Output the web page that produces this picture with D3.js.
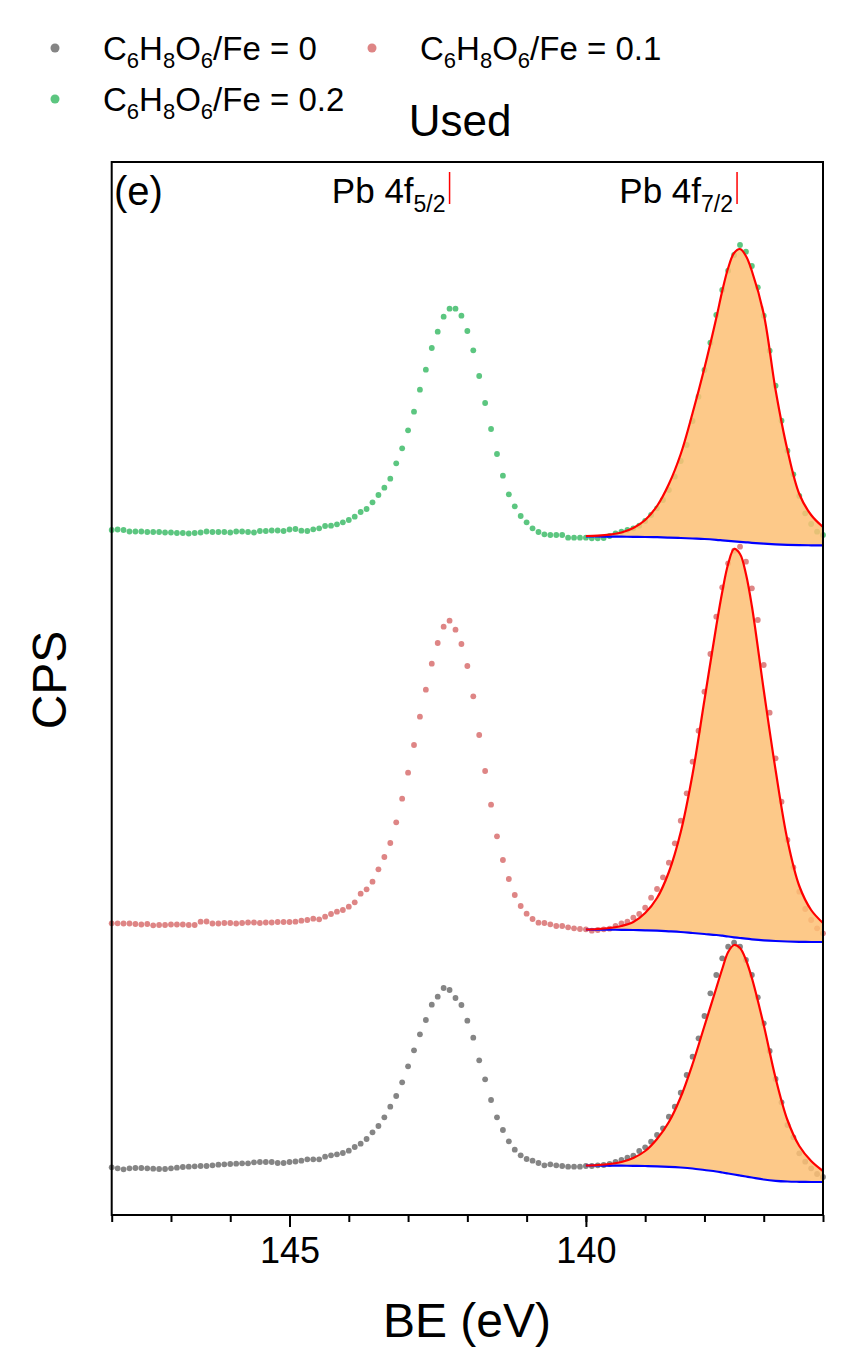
<!DOCTYPE html>
<html lang="en">
<head>
<meta charset="UTF-8">
<title>Pb 4f - Used</title>
<script src="https://d3js.org/d3.v7.min.js"></script>
<style>
body{margin:0;background:#fff;}
text{font-family:Arial,"Liberation Sans",sans-serif;fill:#000;}
</style>
</head>
<body>
<div id="chart"></div>
<script>
// binding energies of the measured points (eV), step 0.1, 148.0 -> 136.0
const be = d3.range(0, 121).map(i => +(148 - i * 0.1).toFixed(1));

const ratio0 = [
  1167.3,1168.3,1169.3,1168.3,1168,1168,1168.3,1168.7,1169,1169,1168.3,1167.7,1167,1166.7,1166.3,1166,
  1166,1165.3,1164.7,1164.3,1164,1163.7,1163.3,1163.3,1162.3,1162,1162,1162,1163,1163,1162,1161.5,
  1160.7,1159.3,1159.3,1159.3,1156.7,1155.3,1154.3,1153,1150.7,1147,1143.7,1139,1132.3,1126,1117.3,1106.7,
  1096,1082.3,1066.3,1050.3,1034.3,1020,1004.7,996.7,988,990,998,1005,1020.7,1037.7,1060.3,1079.3,
  1100,1117.3,1130,1141.3,1149.7,1155.3,1159,1160.7,1163,1165.3,1164.3,1165.3,1166,1166.7,1166.7,1166.7,
  1166,1166,
  1165.3,1165,1164,1162,1160,1157.7,1155.7,1151,1147.3,1141.7,1135,1128.3,1116.7,1106.7,1092.7,
  1075,1056.7,1038.3,1016,993.3,975,958.3,946.7,942.7,946.7,960,975,997.3,1023.3,1051,1079,
  1102.3,1125,1137.3,1153.3,1161.7,1168.3,1174,1177
];
const ratio01 = [
  923.3,923.3,923.5,923.5,924,924.5,924,925.3,925,925,924.5,924.5,924.5,925,925,921.7,
  921.5,923.5,923.5,923,923,923.5,923,922.5,922.5,923,922.5,922.5,922,922,922,921.7,
  920.7,920,918.7,919.3,916.7,914,911.7,910,906.7,902.3,893.7,889.3,881.7,869.3,857,843,
  822.3,798.7,772.7,745,716.7,689.7,663.7,643,626.7,620.7,629.7,644,666,696.3,735,771,
  804.7,836.3,860,879,895,906,913.7,919,922.7,923,924.3,926,926,927.3,928.3,929,
  929.3,930.7,
  930,929.3,928.7,926,923.3,921.7,917.7,914,907.7,897.7,889,877.3,862.7,843.3,
  820.7,793.3,761.7,730.7,691.7,654,616.7,587.3,563.3,550.7,546.7,561.7,588.3,620,665,712.7,
  758.3,801.7,840,867.3,891.7,909,920,928.3,933.3
];
const ratio02 = [
  530,529.5,530,531.5,531.5,531.5,532,532,532,532.5,532.5,533,533,533.5,533,532.5,
  531.5,532,532,532,532.5,531.5,531.5,532,532.5,531,531,530.5,530.5,531,529.5,529,
  530.7,531,529.3,528.3,526,525.7,524.3,522.3,520,516.7,512,509,502.3,495,487.7,478.7,
  463.3,448.3,430.3,411.7,389.7,369.7,348,331.7,316.7,308.7,308.7,315.7,331,350.3,376,403,
  429,454,475.7,494.3,506.3,516,522.3,528.3,532,534.3,535,535,535,537.7,537.7,537.7,
  537.7,538.3,
  538.3,538,536,533.5,531.7,530,528.3,525.7,521,515,508.3,500,490,476.7,
  461,445,421,396.7,370,342.7,315,290,270.7,255,245,251.7,266,287.3,315.7,350.7,
  385.7,420.7,450.7,474.3,496,513.3,524,531.7,535
];

// Pb 4f7/2 fit envelope and background (same BE grid)
const fitBE = [140,139.8,139.6,139.4,139.2,139.0,138.8,138.6,138.4,138.2,138.0,137.8,137.7,137.6,137.5,137.4,137.3,137.2,137.0,136.8,136.6,136.4,136.2,136.0];
const fit0  = [1165.5,1165,1164,1162,1158,1151,1139,1122,1097,1064,1026,988,969,952,945,948,960,978,1025,1078,1120,1146,1161,1171];
const bg0   = [1165.5,1165.5,1165.6,1165.7,1165.8,1166,1166.3,1166.8,1167.5,1168.5,1170,1171.5,1172.5,1173.5,1174.5,1175.5,1176.5,1177.5,1179.5,1180.8,1181.5,1181.8,1182,1182];
const fit01 = [929.5,929,928,926,922,913,898,872,832,774,700,626,592,564,549,554,574,606,690,770,840,886,910,923];
const bg01  = [929.5,929.6,929.7,929.8,930,930.3,930.7,931.3,932,933,934,935,935.7,936.5,937.3,938,938.7,939.3,940.3,941,941.5,941.8,942,942];
const fit02 = [536,535.6,534.6,532.5,528,520,506,484,454,413,368,318,291,268,253,249,256,271,314,390,450,494,515,527];
const bg02  = [536.5,536.5,536.6,536.7,536.8,537,537.2,537.6,538,538.5,539,539.8,540.3,540.8,541.3,541.8,542.3,542.8,543.6,544.3,544.8,545.1,545.3,545.4];

const seriesNames = ["0", "0.1", "0.2"];
const seriesColors = ["#858585", "#de8585", "#5cc680"];
const xTicksMajor = [145, 140];
const peakLabels = [{main:"Pb 4f", sub:"5/2", be:142.3}, {main:"Pb 4f", sub:"7/2", be:137.45}];

const W = 855, H = 1371;
const mLeft = 111.7, mRight = 823, mTop = 162, mBottom = 1215;

const svg = d3.select("#chart").append("svg").attr("width", W).attr("height", H);

const x = d3.scaleLinear().domain([148, 136]).range([mLeft, mRight]);
const y = d3.scaleLinear().domain([1215, 162]).range([mBottom, mTop]);

const plot = svg.append("g");
const series = [ratio0, ratio01, ratio02];
const fits = [[fit0, bg0], [fit01, bg01], [fit02, bg02]];

// dots first
series.forEach((s, k) => {
  plot.append("g").selectAll("circle").data(s).enter().append("circle")
    .attr("cx", (d, i) => x(be[i]))
    .attr("cy", d => y(d))
    .attr("r", 2.9)
    .attr("fill", seriesColors[k]);
});

// fits with filled area on top
fits.forEach(([f, b]) => {
  const area = d3.area().curve(d3.curveCatmullRom)
    .x((d, i) => x(fitBE[i])).y0((d, i) => y(b[i])).y1(d => y(d));
  plot.append("path").datum(f).attr("d", area)
    .attr("fill", "#fdbf74").attr("fill-opacity", 0.85);
  const line = d3.line().curve(d3.curveCatmullRom).x((d, i) => x(fitBE[i])).y(d => y(d));
  plot.append("path").datum(b).attr("d", line).attr("fill", "none").attr("stroke", "#0000ff").attr("stroke-width", 2.2);
  plot.append("path").datum(f).attr("d", line).attr("fill", "none").attr("stroke", "#ff0000").attr("stroke-width", 2.2);
});

// frame
svg.append("rect").attr("x", mLeft).attr("y", mTop).attr("width", mRight - mLeft).attr("height", mBottom - mTop)
  .attr("fill", "none").attr("stroke", "#000").attr("stroke-width", 2);

// x axis
const minor = d3.axisBottom(x).tickValues(d3.range(136, 149)).tickSize(7).tickFormat("");
const major = d3.axisBottom(x).tickValues(xTicksMajor).tickSize(12).tickPadding(10).tickFormat(d3.format("d"));
[minor, major].forEach(ax => {
  const g = svg.append("g").attr("transform", `translate(0,${mBottom})`).call(ax);
  g.select(".domain").remove();
  g.selectAll("line").attr("stroke", "#000").attr("stroke-width", 2);
  g.selectAll("text").attr("font-size", 36).attr("font-family", "Arial, Liberation Sans, sans-serif").attr("fill", "#000");
});

svg.append("text").attr("x", 467).attr("y", 1337).attr("text-anchor", "middle").attr("font-size", 48).text("BE (eV)");
svg.append("text").attr("transform", "translate(66,680) rotate(-90)").attr("text-anchor", "middle").attr("font-size", 48).text("CPS");
svg.append("text").attr("x", 460).attr("y", 136).attr("text-anchor", "middle").attr("font-size", 44).text("Used");
svg.append("text").attr("x", 114).attr("y", 205).attr("font-size", 40).text("(e)");

// peak labels with red markers
peakLabels.forEach(p => {
  const xm = x(p.be);
  const t = svg.append("text").attr("x", xm - 4).attr("y", 203).attr("text-anchor", "end").attr("font-size", 35);
  t.append("tspan").text(p.main);
  t.append("tspan").attr("font-size", 23).attr("dy", 9).text(p.sub);
  svg.append("line").attr("x1", xm).attr("x2", xm).attr("y1", 172).attr("y2", 204)
    .attr("stroke", "#ff0000").attr("stroke-width", 1.5);
});

// legend
const legendPos = [[55, 48], [372, 48], [55, 99]];
seriesNames.forEach((n, k) => {
  const [lx, ly] = legendPos[k];
  svg.append("circle").attr("cx", lx).attr("cy", ly).attr("r", 4.5).attr("fill", seriesColors[k]);
  const t = svg.append("text").attr("x", lx + 48).attr("y", ly + 12).attr("font-size", 33);
  [["C",0],["6",1],["H",0],["8",1],["O",0],["6",1],["/Fe = " + n,0]].forEach(([s, sub], j) => {
    const ts = t.append("tspan").text(s);
    if (sub) ts.attr("font-size", 22).attr("dy", 8);
    else if (j > 0) ts.attr("dy", -8);
  });
});
</script>
</body>
</html>
